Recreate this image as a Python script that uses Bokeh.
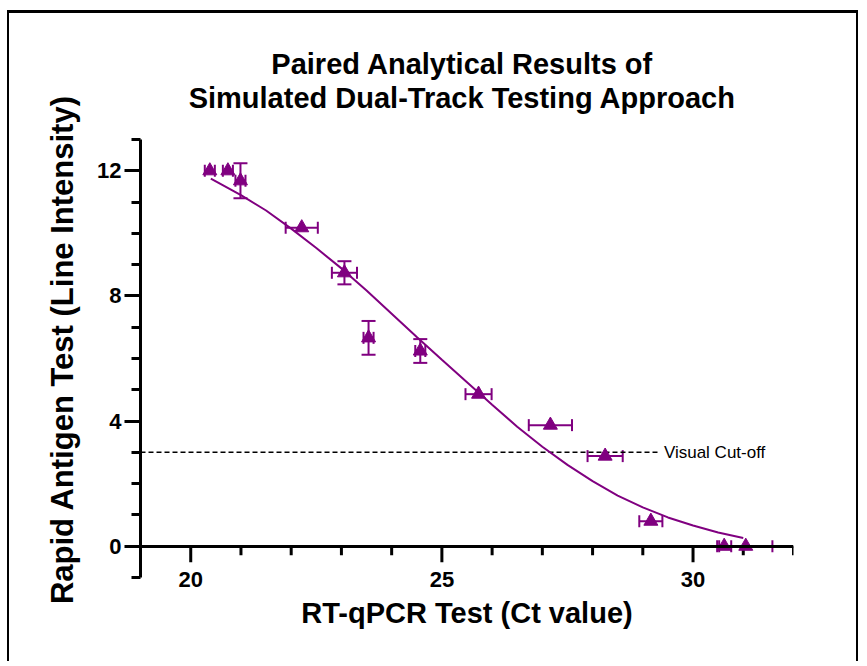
import math
from bokeh.plotting import figure
from bokeh.layouts import column, row
from bokeh.models import (ColumnDataSource, Whisker, TeeHead, Range1d, FixedTicker, Label,
                          LinearAxis)
from bokeh.embed import file_html
from bokeh.resources import INLINE

# ---- data ----
ct_value = [20.38, 20.74, 20.99, 22.21, 23.06, 23.54, 24.57, 25.73, 27.16, 28.25, 29.16, 30.62, 31.05]
intensity = [12.0, 12.0, 11.68, 10.18, 8.74, 6.66, 6.24, 4.86, 3.87, 2.88, 0.80, 0.0, 0.0]
ct_err = [0.10, 0.10, 0.10, 0.32, 0.25, 0.10, 0.10, 0.26, 0.43, 0.35, 0.23, 0.14, 0.53]
intensity_err = [0.0, 0.0, 0.56, 0.0, 0.37, 0.54, 0.38, 0.0, 0.0, 0.0, 0.0, 0.0, 0.0]

fit_x = [20.4, 21.0, 21.5, 22.0, 22.5, 23.0, 23.5, 24.0, 24.5, 25.0, 25.5, 26.0,
         26.5, 27.0, 27.5, 28.0, 28.5, 29.0, 29.5, 30.0, 30.5, 31.0]
fit_y = [11.75, 11.22, 10.73, 10.15, 9.53, 8.88, 8.17, 7.43, 6.69, 5.96, 5.24, 4.52,
         3.82, 3.18, 2.6, 2.08, 1.62, 1.24, 0.92, 0.66, 0.44, 0.26]

cutoff_level = 3.0
cutoff_x = [19.0, 29.3]
cutoff_label = "Visual Cut-off"

x_major = [20, 25, 30]
x_minor = [19, 21, 22, 23, 24, 26, 27, 28, 29, 31, 32]
y_major = [0, 4, 8, 12]
y_minor = list(range(-1, 14))

title_lines = ["Paired Analytical Results of", "Simulated Dual-Track Testing Approach"]
x_title = "RT-qPCR Test (Ct value)"
y_title = "Rapid Antigen Test (Line Intensity)"

PURPLE = "#800080"
FONT = "Liberation Sans"

# layout sizes (pixels)
S = 80                      # width of the strip holding the y-axis title
FW, FH = 653, 438
BL, BR, BT, BB = 51, 63, 4, 84
W = BL + FW + BR
TH = 122
H_MAIN = BT + FH + BB
H_ALL = TH + H_MAIN
X0, X1, Y0, Y1 = 19, 32, -1, 13
px_per_y = FH / (Y1 - Y0)
MAJOR_LEN, MINOR_LEN = 16, 9


def blank(width, height):
    f = figure(width=width, height=height, output_backend="svg", toolbar_location=None,
               x_range=Range1d(0, width), y_range=Range1d(0, height),
               x_axis_type=None, y_axis_type=None,
               min_border_left=0, min_border_right=0, min_border_top=0, min_border_bottom=0)
    f.grid.visible = False
    f.outline_line_color = None
    f.background_fill_color = "white"
    f.border_fill_color = "white"
    return f


# ---------------- y-axis title strip ----------------
ys_fig = blank(S, H_ALL)
ys_fig.add_layout(Label(x=53, y=312, text=y_title, angle=math.pi / 2, text_align="center",
                        text_baseline="middle", text_font=FONT, text_font_style="bold",
                        text_font_size="31px", text_color="black"))

# ---------------- title strip ----------------
t = blank(W, TH)
for line, y in zip(title_lines, (72, 38)):
    t.add_layout(Label(x=378, y=y, text=line, text_align="center",
                       text_baseline="middle", text_font=FONT, text_font_style="bold",
                       text_font_size="29px", text_color="black"))

# ---------------- main plot ----------------
p = figure(frame_width=FW, frame_height=FH, output_backend="svg", toolbar_location=None,
           x_range=Range1d(X0, X1), y_range=Range1d(Y0, Y1),
           min_border_left=BL, min_border_right=BR, min_border_top=BT, min_border_bottom=BB)
p.grid.visible = False
p.outline_line_color = None
p.background_fill_color = "white"
p.border_fill_color = "white"


def style_axis(ax, maj, mino):
    ax.ticker = FixedTicker(ticks=maj, minor_ticks=mino)
    ax.axis_line_width = 3
    ax.axis_line_color = "black"
    ax.major_tick_line_width = 3
    ax.minor_tick_line_width = 3
    ax.major_tick_line_color = "black"
    ax.minor_tick_line_color = "black"
    ax.major_label_text_font = FONT
    ax.major_label_text_font_style = "bold"
    ax.major_label_text_font_size = "22px"
    ax.major_label_text_color = "black"
    ax.axis_label_text_font = FONT
    ax.axis_label_text_font_style = "bold"
    ax.axis_label_text_color = "black"


# y axis (left)
yax = p.yaxis[0]
style_axis(yax, y_major, y_minor)
yax.major_tick_out = MAJOR_LEN
yax.major_tick_in = 0
yax.minor_tick_out = MINOR_LEN
yax.minor_tick_in = 0
yax.major_label_standoff = 3

# x axis: labels only, below the frame
xlab = p.xaxis[0]
style_axis(xlab, x_major, x_minor)
xlab.axis_label_text_font_size = "29px"
xlab.axis_line_color = None
xlab.major_tick_line_color = None
xlab.minor_tick_line_color = None
xlab.major_tick_out = 0
xlab.major_tick_in = 0
xlab.minor_tick_out = 0
xlab.minor_tick_in = 0
xlab.major_label_standoff = -6
xlab.axis_label = x_title
xlab.axis_label_standoff = 7

# x axis line crossing the y axis at 0
xline = LinearAxis(fixed_location=0)
style_axis(xline, x_major, x_minor)
xline.major_tick_in = 0
xline.major_tick_out = 0
xline.minor_tick_in = 0
xline.minor_tick_out = 0
xline.major_label_text_font_size = "0px"
xline.major_label_text_alpha = 0
xline.major_label_standoff = 0
p.add_layout(xline, "below")

# x tick marks hanging below the y = 0 axis line
p.segment(x0=x_major, y0=[0] * len(x_major), x1=x_major,
          y1=[-MAJOR_LEN / px_per_y] * len(x_major), line_color="black", line_width=3)
p.segment(x0=x_minor, y0=[0] * len(x_minor), x1=x_minor,
          y1=[-MINOR_LEN / px_per_y] * len(x_minor), line_color="black", line_width=3)

# cut-off line
p.line(cutoff_x, [cutoff_level, cutoff_level], line_color="black", line_width=1.5, line_dash="5 3")
p.add_layout(Label(x=cutoff_x[1] + 0.12, y=cutoff_level, text=cutoff_label, text_font=FONT,
                   text_font_size="17px", text_baseline="middle", text_color="black"))

# fitted curve
p.line(fit_x, fit_y, line_color=PURPLE, line_width=2)

# error bars
xs = ColumnDataSource(dict(y=intensity,
                           lo=[c - e for c, e in zip(ct_value, ct_err)],
                           hi=[c + e for c, e in zip(ct_value, ct_err)]))
p.add_layout(Whisker(source=xs, base="y", lower="lo", upper="hi", dimension="width",
                     line_color=PURPLE, line_width=2,
                     upper_head=TeeHead(size=12, line_color=PURPLE, line_width=2),
                     lower_head=TeeHead(size=12, line_color=PURPLE, line_width=2)))
idx = [i for i, e in enumerate(intensity_err) if e > 0]
ysrc = ColumnDataSource(dict(x=[ct_value[i] for i in idx],
                             lo=[intensity[i] - intensity_err[i] for i in idx],
                             hi=[intensity[i] + intensity_err[i] for i in idx]))
p.add_layout(Whisker(source=ysrc, base="x", lower="lo", upper="hi", dimension="height",
                     line_color=PURPLE, line_width=2,
                     upper_head=TeeHead(size=14, line_color=PURPLE, line_width=2),
                     lower_head=TeeHead(size=14, line_color=PURPLE, line_width=2)))

p.scatter(ct_value, intensity, marker="triangle", size=14, fill_color=PURPLE, line_color=PURPLE)

layout = row(ys_fig, column(t, p, spacing=0), spacing=0)
layout.styles = {"border-top": "3px solid black", "border-left": "2px solid black",
                 "border-right": "2px solid black", "margin-left": "7px", "margin-top": "10px"}

open("out.html", "w").write(file_html(layout, INLINE))
